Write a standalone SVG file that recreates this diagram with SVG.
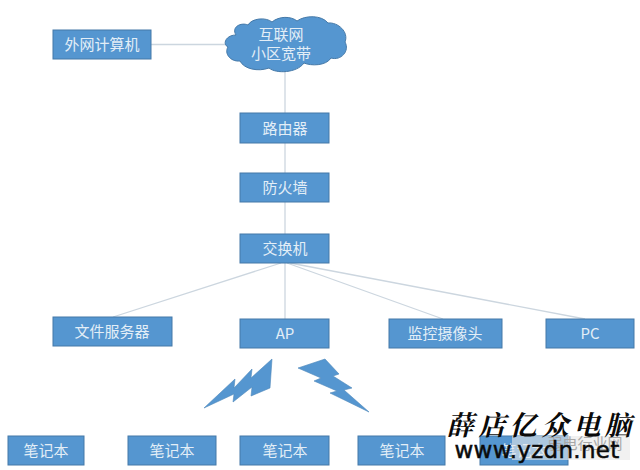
<svg xmlns="http://www.w3.org/2000/svg" width="640" height="470" viewBox="0 0 640 470">
<style>
.box{fill:#5596d0;stroke:#4579a8;stroke-width:1}
.t{font-family:"Noto Sans CJK SC","Liberation Sans",sans-serif;font-size:15px;fill:#e3eef7;text-anchor:middle}
.c{stroke:#ccd6df;stroke-width:1.3;fill:none}
.bolt{fill:#5596d0;stroke:#4f88bb;stroke-width:.6}
.wm{font-family:"Noto Serif CJK SC","Noto Sans CJK SC",sans-serif;font-size:27px;font-weight:700;font-style:italic;fill:#0a0a0a;text-anchor:middle}
</style>
<rect width="640" height="470" fill="#fff"/>
<g id="connectors">
<line class="c" x1="151" y1="44.500" x2="226" y2="44.500"/>
<line class="c" x1="285" y1="70" x2="285" y2="113"/>
<line class="c" x1="285" y1="143" x2="285" y2="173"/>
<line class="c" x1="285" y1="202" x2="285" y2="234"/>
<line class="c" x1="281" y1="263" x2="113" y2="317"/>
<line class="c" x1="285" y1="263" x2="285" y2="319"/>
<line class="c" x1="287" y1="263" x2="443" y2="319"/>
<line class="c" x1="290" y1="263" x2="585" y2="319"/>
</g>
<g id="n-external"><rect class="box" x="53" y="30" width="98" height="29"/><text class="t" x="102" y="50">外网计算机</text></g>
<g id="n-cloud">
<path d="M236 35C231 27 241 22 248 25C252 18 266 17 272 22C279 16 291 16 297 21C305 15 322 15 328 23C338 22 349 32 345 42C350 51 341 61 331 58C326 66 311 66 304 63C297 73 276 74 269 68C258 72 244 69 240 61C230 62 224 53 228 47C222 44 226 35 236 35Z" fill="#5596d0" stroke="#4579a8"/>
<text class="t" x="281" y="40">互联网</text><text class="t" x="281" y="59">小区宽带</text>
</g>
<g id="n-router"><rect class="box" x="240" y="113" width="89" height="30"/><text class="t" x="285" y="134">路由器</text></g>
<g id="n-firewall"><rect class="box" x="240" y="173" width="89" height="29"/><text class="t" x="285" y="193">防火墙</text></g>
<g id="n-switch"><rect class="box" x="240" y="234" width="89" height="29"/><text class="t" x="285" y="254">交换机</text></g>
<g id="n-server"><rect class="box" x="53" y="317" width="119" height="29"/><text class="t" x="112" y="337">文件服务器</text></g>
<g id="n-ap"><rect class="box" x="240" y="319" width="89" height="29"/><text class="t" x="285" y="339">AP</text></g>
<g id="n-camera"><rect class="box" x="389" y="319" width="113" height="29"/><text class="t" x="445" y="339">监控摄像头</text></g>
<g id="n-pc"><rect class="box" x="546" y="319" width="88" height="29"/><text class="t" x="590" y="339">PC</text></g>
<g id="bolts">
<polygon class="bolt" points="204,408 235,379 234,388 252,369 251,378 272,359 270,388 251,396 252,387 233,402 234,394"/>
<polygon class="bolt" points="298,368 325,359 339,374 333,376 352,388 344,390 369,412 330,393 337,391 314,381 321,378"/>
</g>
<g id="n-laptop1"><rect class="box" x="8" y="436" width="76" height="29"/><text class="t" x="46" y="456">笔记本</text></g>
<g id="n-laptop2"><rect class="box" x="128" y="436" width="88" height="29"/><text class="t" x="172" y="456">笔记本</text></g>
<g id="n-laptop3"><rect class="box" x="240" y="436" width="89" height="29"/><text class="t" x="285" y="456">笔记本</text></g>
<g id="n-laptop4"><rect class="box" x="358" y="436" width="87" height="29"/><text class="t" x="402" y="456">笔记本</text></g>
<g id="n-laptop5"><rect class="box" x="480" y="436" width="88" height="29"/><text class="t" x="524" y="456">笔记本</text></g>
<g id="watermark">
<rect x="512" y="436" width="118" height="24" fill="#e8e8e8" opacity=".6"/>
<text x="585" y="449" font-family="'Noto Sans CJK SC',sans-serif" font-size="15" fill="#a8a8a8" text-anchor="middle">弱电行业网</text>
<text class="wm" x="460" y="435">薛</text><text class="wm" x="492" y="435">店</text><text class="wm" x="523" y="435">亿</text><text class="wm" x="555" y="435">众</text><text class="wm" x="587" y="435">电</text><text class="wm" x="618" y="435">脑</text>
<text x="537" y="458" font-family="'DejaVu Sans',sans-serif" font-size="23" stroke="#0a0a0a" stroke-width=".5" letter-spacing=".3" fill="#0a0a0a" text-anchor="middle">www.yzdn.net</text>
</g>
</svg>
